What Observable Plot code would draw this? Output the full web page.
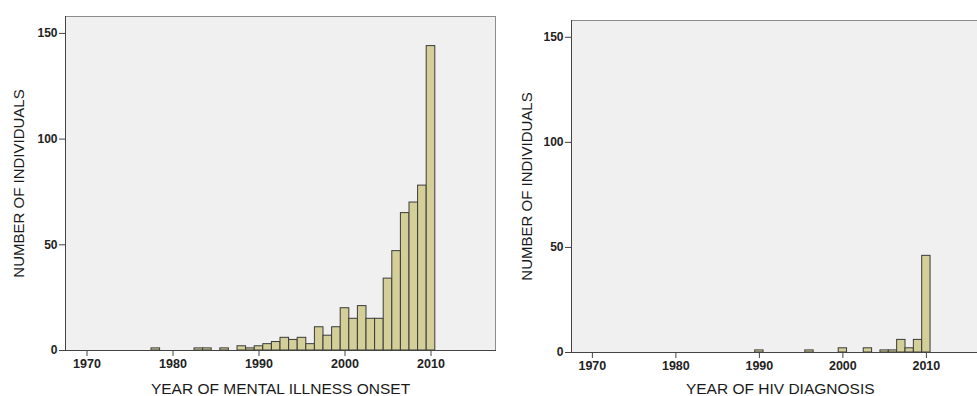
<!DOCTYPE html>
<html><head><meta charset="utf-8">
<script src="https://cdn.jsdelivr.net/npm/d3@7"></script>
<script src="https://cdn.jsdelivr.net/npm/@observablehq/plot@0.6"></script>
<style>
body{margin:0;background:#fff;}
#wrap{position:relative;width:977px;height:396px;overflow:hidden;background:#fff;}
.panel{position:absolute;top:0;}
</style></head><body><div id="wrap"></div>
<script>
const onsetYears  = [1978,1983,1984,1986,1988,1989,1990,1991,1992,1993,1994,1995,1996,1997,1998,1999,2000,2001,2002,2003,2004,2005,2006,2007,2008,2009,2010];
const onsetCounts = [1,   1,   1,   1,   2,   1,   2,   3,   4,   6,   5,   6,   3,   11,  7,   11,  20,  15,  21,  15,  15,  34,  47,  65,  70,  78,  144];
const hivYears  = [1990,1996,2000,2003,2005,2006,2007,2008,2009,2010];
const hivCounts = [1,   1,   2,   2,   1,   1,   6,   2,   6,   46];
const xTicks = [1970,1980,1990,2000,2010];
const yTicks = [0,50,100,150];
const xLabels = ["YEAR OF MENTAL ILLNESS ONSET","YEAR OF HIV DIAGNOSIS"];
const yLabel = "NUMBER OF INDIVIDUALS";

function panel(years, counts, xLabel, o) {
  const data = years.map((y,i)=>({year:y, count:counts[i]}));
  return Plot.plot({
    width: o.width, height: 396,
    marginLeft: 65, marginRight: o.marginRight, marginTop: o.marginTop, marginBottom: o.marginBottom,
    style: {fontFamily: "Liberation Sans, Arial, sans-serif", background: "transparent", color: "#222"},
    x: {domain: [1967.5, 2017.5], axis: null},
    y: {domain: [0, 158], axis: null},
    marks: [
      Plot.frame({fill: "#f0f0f0", stroke: "#8c8c8c"}),
      Plot.rectY(data, {x1: d => d.year - 0.5, x2: d => d.year + 0.5, y: "count", fill: "#d4cf98", stroke: "#3a3a3a", strokeWidth: 1}),
      Plot.frame({anchor: "bottom", stroke: "#444"}),
      Plot.frame({anchor: "left", stroke: "#444"}),
      Plot.axisX(xTicks, {tickSize: 6, tickPadding: 3, tickFormat: d => String(d), fontSize: 12.5, fontWeight: "bold", stroke: "#444", fill: "#222", label: null}),
      Plot.axisY(yTicks, {tickSize: 6, tickPadding: 2, fontSize: 12, fontWeight: "bold", stroke: "#444", fill: "#222", label: null}),
      Plot.text([xLabel], {text: d => d, frameAnchor: "bottom", lineAnchor: "middle", textAnchor: "middle", dy: o.xLabelDy, fontSize: 15.5, fill: "#1a1a1a"}),
      Plot.text([yLabel], {text: d => d, frameAnchor: "left", lineAnchor: "middle", textAnchor: "middle", dx: o.yLabelDx, rotate: -90, fontSize: 15, fill: "#1a1a1a"})
    ]
  });
}

const wrap = document.getElementById("wrap");
const p1 = panel(onsetYears, onsetCounts, xLabels[0], {width: 500, marginRight: 5, marginTop: 16, marginBottom: 46, xLabelDy: 38.5, yLabelDx: -46});
p1.classList.add("panel"); p1.style.left = "0px";
wrap.appendChild(p1);
const p2 = panel(hivYears, hivCounts, xLabels[1], {width: 483, marginRight: 0.5, marginTop: 20, marginBottom: 44, xLabelDy: 36.5, yLabelDx: -44});
p2.classList.add("panel"); p2.style.left = "506px";
wrap.appendChild(p2);
</script></body></html>
